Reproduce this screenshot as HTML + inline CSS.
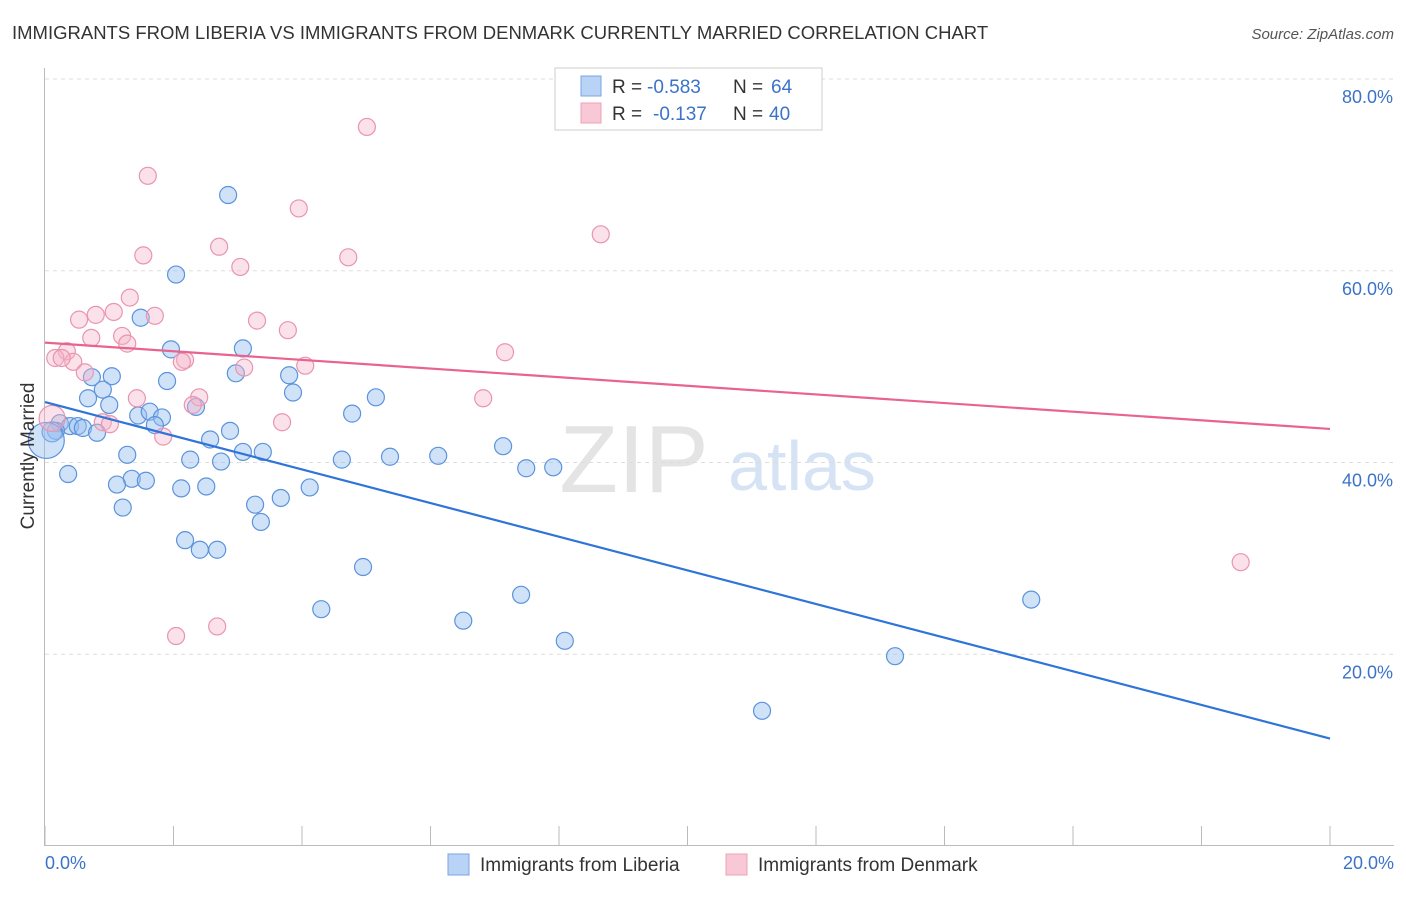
<!DOCTYPE html>
<html><head><meta charset="utf-8"><style>
body{margin:0;background:#fff;font-family:"Liberation Sans",sans-serif}
svg text{font-family:"Liberation Sans",sans-serif}
</style></head><body>
<svg id="c" width="1406" height="892" xmlns="http://www.w3.org/2000/svg">
<text x="12" y="39" font-size="18.5" fill="#333">IMMIGRANTS FROM LIBERIA VS IMMIGRANTS FROM DENMARK CURRENTLY MARRIED CORRELATION CHART</text>
<text x="1394" y="39" font-size="15" fill="#555" font-style="italic" text-anchor="end">Source: ZipAtlas.com</text>
<text x="634" y="492" font-size="96" fill="#e4e4e4" font-family="Liberation Serif" text-anchor="middle">ZIP</text>
<text x="802" y="490" font-size="70" fill="#d5e3f5" text-anchor="middle">atlas</text>
<g id="grid"></g><g id="axes"></g><g id="marks"></g>
<text transform="translate(34,456) rotate(-90)" font-size="19" fill="#333" text-anchor="middle">Currently Married</text>
<text x="45" y="869" font-size="18" fill="#3b73c8">0.0%</text>
<text x="1394" y="869" font-size="18" fill="#3b73c8" text-anchor="end">20.0%</text>
<g>
<rect x="555" y="68" width="267" height="62" fill="#fff" stroke="#ccc"/>
<rect x="581" y="76" width="20" height="20" fill="#b8d3f5" stroke="#7aa6e0"/>
<rect x="581" y="103" width="20" height="20" fill="#f8c8d6" stroke="#eca0b8"/>
<text x="612" y="93" font-size="19" fill="#333">R =</text>
<text x="647" y="93" font-size="19" fill="#3b73c8">-0.583</text>
<text x="733" y="93" font-size="19" fill="#333">N =</text>
<text x="771" y="93" font-size="19" fill="#3b73c8">64</text>
<text x="612" y="120" font-size="19" fill="#333">R =</text>
<text x="653" y="120" font-size="19" fill="#3b73c8">-0.137</text>
<text x="733" y="120" font-size="19" fill="#333">N =</text>
<text x="769" y="120" font-size="19" fill="#3b73c8">40</text>
</g>
<g>
<rect x="448" y="854" width="21" height="21" fill="#b8d3f5" stroke="#7aa6e0"/>
<text x="480" y="871" font-size="19" fill="#333">Immigrants from Liberia</text>
<rect x="726" y="854" width="21" height="21" fill="#f8c8d6" stroke="#eca0b8"/>
<text x="758" y="871" font-size="19" fill="#333">Immigrants from Denmark</text>
</g>
</svg>
<script>
const yTicks=[20,40,60,80];
const yTickLabels=["20.0%","40.0%","60.0%","80.0%"];
const xTicks=[0,2,4,6,8,10,12,14,16,18,20];
const blueX=[2.85,2.04,1.49,1.96,3.08,1.04,0.73,1.90,2.97,3.80,0.90,3.86,5.15,0.67,1.00,2.35,1.45,1.63,1.82,4.78,0.23,0.39,0.51,0.59,0.17,1.71,0.81,2.88,2.57,7.13,3.39,3.08,1.28,2.26,2.74,4.62,5.37,6.12,7.49,7.91,0.36,1.35,1.57,1.12,2.12,2.51,4.12,3.67,3.27,1.21,3.36,2.18,2.41,2.68,4.95,7.41,15.35,4.30,6.51,8.09,13.23,11.16,0.11,0.02];
const blueY=[67.9,59.6,55.1,51.8,51.9,49.0,48.9,48.5,49.3,49.1,47.6,47.3,46.8,46.7,46.0,45.8,44.9,45.3,44.7,45.1,44.1,43.8,43.8,43.6,43.3,43.9,43.1,43.3,42.4,41.7,41.1,41.1,40.8,40.3,40.1,40.3,40.6,40.7,39.4,39.5,38.8,38.3,38.1,37.7,37.3,37.5,37.4,36.3,35.6,35.3,33.8,31.9,30.9,30.9,29.1,26.2,25.7,24.7,23.5,21.4,19.8,14.1,43.2,42.3];
const blueR=[8.5,8.5,8.5,8.5,8.5,8.5,8.5,8.5,8.5,8.5,8.5,8.5,8.5,8.5,8.5,8.5,8.5,8.5,8.5,8.5,8.5,8.5,8.5,8.5,8.5,8.5,8.5,8.5,8.5,8.5,8.5,8.5,8.5,8.5,8.5,8.5,8.5,8.5,8.5,8.5,8.5,8.5,8.5,8.5,8.5,8.5,8.5,8.5,8.5,8.5,8.5,8.5,8.5,8.5,8.5,8.5,8.5,8.5,8.5,8.5,8.5,8.5,10,18];
const pinkX=[5.01,1.60,3.95,8.65,2.71,1.53,4.72,3.04,1.32,1.07,1.71,0.53,0.79,3.30,3.78,1.20,0.72,1.28,7.16,0.34,0.16,0.44,2.18,2.13,3.10,4.05,0.62,1.43,2.40,2.30,6.82,0.90,3.69,1.84,18.61,2.04,2.68,0.11,0.26,1.01];
const pinkY=[75.0,69.9,66.5,63.8,62.5,61.6,61.4,60.4,57.2,55.7,55.3,54.9,55.4,54.8,53.8,53.2,53.0,52.4,51.5,51.6,50.9,50.5,50.7,50.5,49.9,50.1,49.4,46.7,46.8,46.0,46.7,44.2,44.2,42.7,29.6,21.9,22.9,44.6,50.9,44.0];
const pinkR=[8.5,8.5,8.5,8.5,8.5,8.5,8.5,8.5,8.5,8.5,8.5,8.5,8.5,8.5,8.5,8.5,8.5,8.5,8.5,8.5,8.5,8.5,8.5,8.5,8.5,8.5,8.5,8.5,8.5,8.5,8.5,8.5,8.5,8.5,8.5,8.5,8.5,13,8.5,8.5];
const blueTrend=[46.3,11.2];
const pinkTrend=[52.5,43.5];
const NS="http://www.w3.org/2000/svg";
const X=v=>45+v/20*1285;
const Y=v=>846-v*9.5875;
function mk(t,a,p){const e=document.createElementNS(NS,t);for(const k in a)e.setAttribute(k,a[k]);document.getElementById(p).appendChild(e);return e;}
yTicks.forEach((t,i)=>{
 const l=mk('line',{x1:45,x2:1394,y1:Y(t),y2:Y(t),stroke:'#ddd','stroke-dasharray':'4,4'},'grid');
 
 
 const tx=mk('text',{x:1393,y:Y(t)+24,'font-size':18,fill:'#3b73c8','text-anchor':'end'},'grid');
 tx.textContent=yTickLabels[i];
 
 
});
const ya=mk('line',{x1:44.5,x2:44.5,y1:68,y2:846,stroke:'#bbb'},'axes');


const xa=mk('line',{x1:45,x2:1394,y1:845.5,y2:845.5,stroke:'#bbb'},'axes');


xTicks.forEach(t=>{
 const l=mk('line',{x1:X(t),x2:X(t),y1:826,y2:846,stroke:'#bbb'},'axes');
 
 
});
blueX.forEach((v,i)=>{
 const c=mk('circle',{cx:X(v),cy:Y(blueY[i]),r:blueR[i],fill:'rgba(150,190,240,0.45)',stroke:'#5b93dc','stroke-width':1.2},'marks');
 
 
});
pinkX.forEach((v,i)=>{
 const c=mk('circle',{cx:X(v),cy:Y(pinkY[i]),r:pinkR[i],fill:'rgba(245,180,200,0.4)',stroke:'#e995b0','stroke-width':1.2},'marks');
 
 
});
const bl=mk('line',{x1:X(0),y1:Y(blueTrend[0]),x2:X(20),y2:Y(blueTrend[1]),stroke:'#2f74d8','stroke-width':2.2},'marks');


const pl=mk('line',{x1:X(0),y1:Y(pinkTrend[0]),x2:X(20),y2:Y(pinkTrend[1]),stroke:'#e8648f','stroke-width':2.2},'marks');


</script>
</body></html>
